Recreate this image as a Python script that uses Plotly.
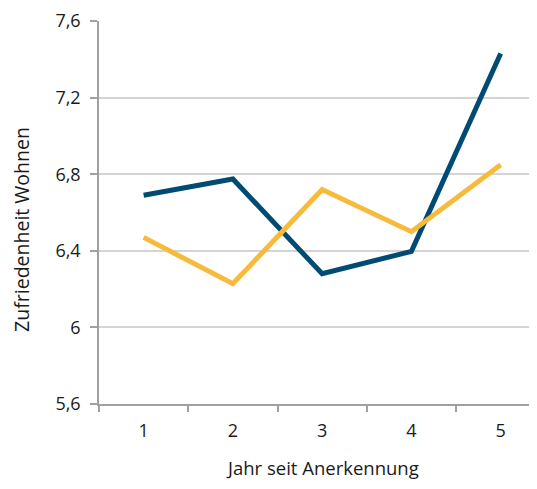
import plotly.graph_objects as go

years = ["1", "2", "3", "4", "5"]
blue_values = [6.69, 6.775, 6.28, 6.397, 7.43]
yellow_values = [6.47, 6.228, 6.72, 6.50, 6.85]
y_tickvals = [5.6, 6.0, 6.4, 6.8, 7.2, 7.6]
y_ticktext = ["5,6", "6", "6,4", "6,8", "7,2", "7,6"]

FONT = "'Open Sans', 'Noto Sans', sans-serif"

fig = go.Figure()
fig.add_trace(go.Scatter(x=years, y=blue_values, mode="lines",
                         line=dict(color="#004B74", width=5), showlegend=False))
fig.add_trace(go.Scatter(x=years, y=yellow_values, mode="lines",
                         line=dict(color="#F7BB3C", width=5), showlegend=False))

# page body has an 8px margin, so the figure is sized to fill the rest of the window
fig.update_layout(
    width=529, height=481,
    margin=dict(l=91, r=0, t=10, b=85),
    paper_bgcolor="white", plot_bgcolor="white",
    font=dict(family=FONT, size=18, color="#1a1a1a"),
    xaxis=dict(type="category", range=[-0.5, 4.407], tickson="boundaries",
               ticks="outside", ticklen=6, tickcolor="#A0A0A0", tickwidth=1.5,
               showline=True, linecolor="#A0A0A0", linewidth=1.5,
               showgrid=False, ticklabelstandoff=10,
               tickfont=dict(size=18, family=FONT)),
    yaxis=dict(range=[5.6, 7.6], tickvals=y_tickvals, ticktext=y_ticktext,
               ticks="outside", ticklen=7, tickcolor="#A0A0A0", tickwidth=1.5,
               showline=True, linecolor="#A0A0A0", linewidth=1.5,
               showgrid=True, gridcolor="#D4D4D4", gridwidth=1.5,
               zeroline=False, ticklabeloverflow="allow", ticklabelstandoff=6,
               tickfont=dict(size=18, family=FONT)),
    annotations=[
        dict(text="Jahr seit Anerkennung", xref="x", x=2, yref="paper", y=-0.166,
             showarrow=False, xanchor="center", yanchor="middle",
             font=dict(size=18.5, family=FONT)),
        dict(text="Zufriedenheit Wohnen", xref="paper", x=-0.176, yref="paper", y=0.457,
             showarrow=False, xanchor="center", yanchor="middle", textangle=-90,
             font=dict(size=19.5, family=FONT)),
    ],
)

fig.write_html("out.html")
